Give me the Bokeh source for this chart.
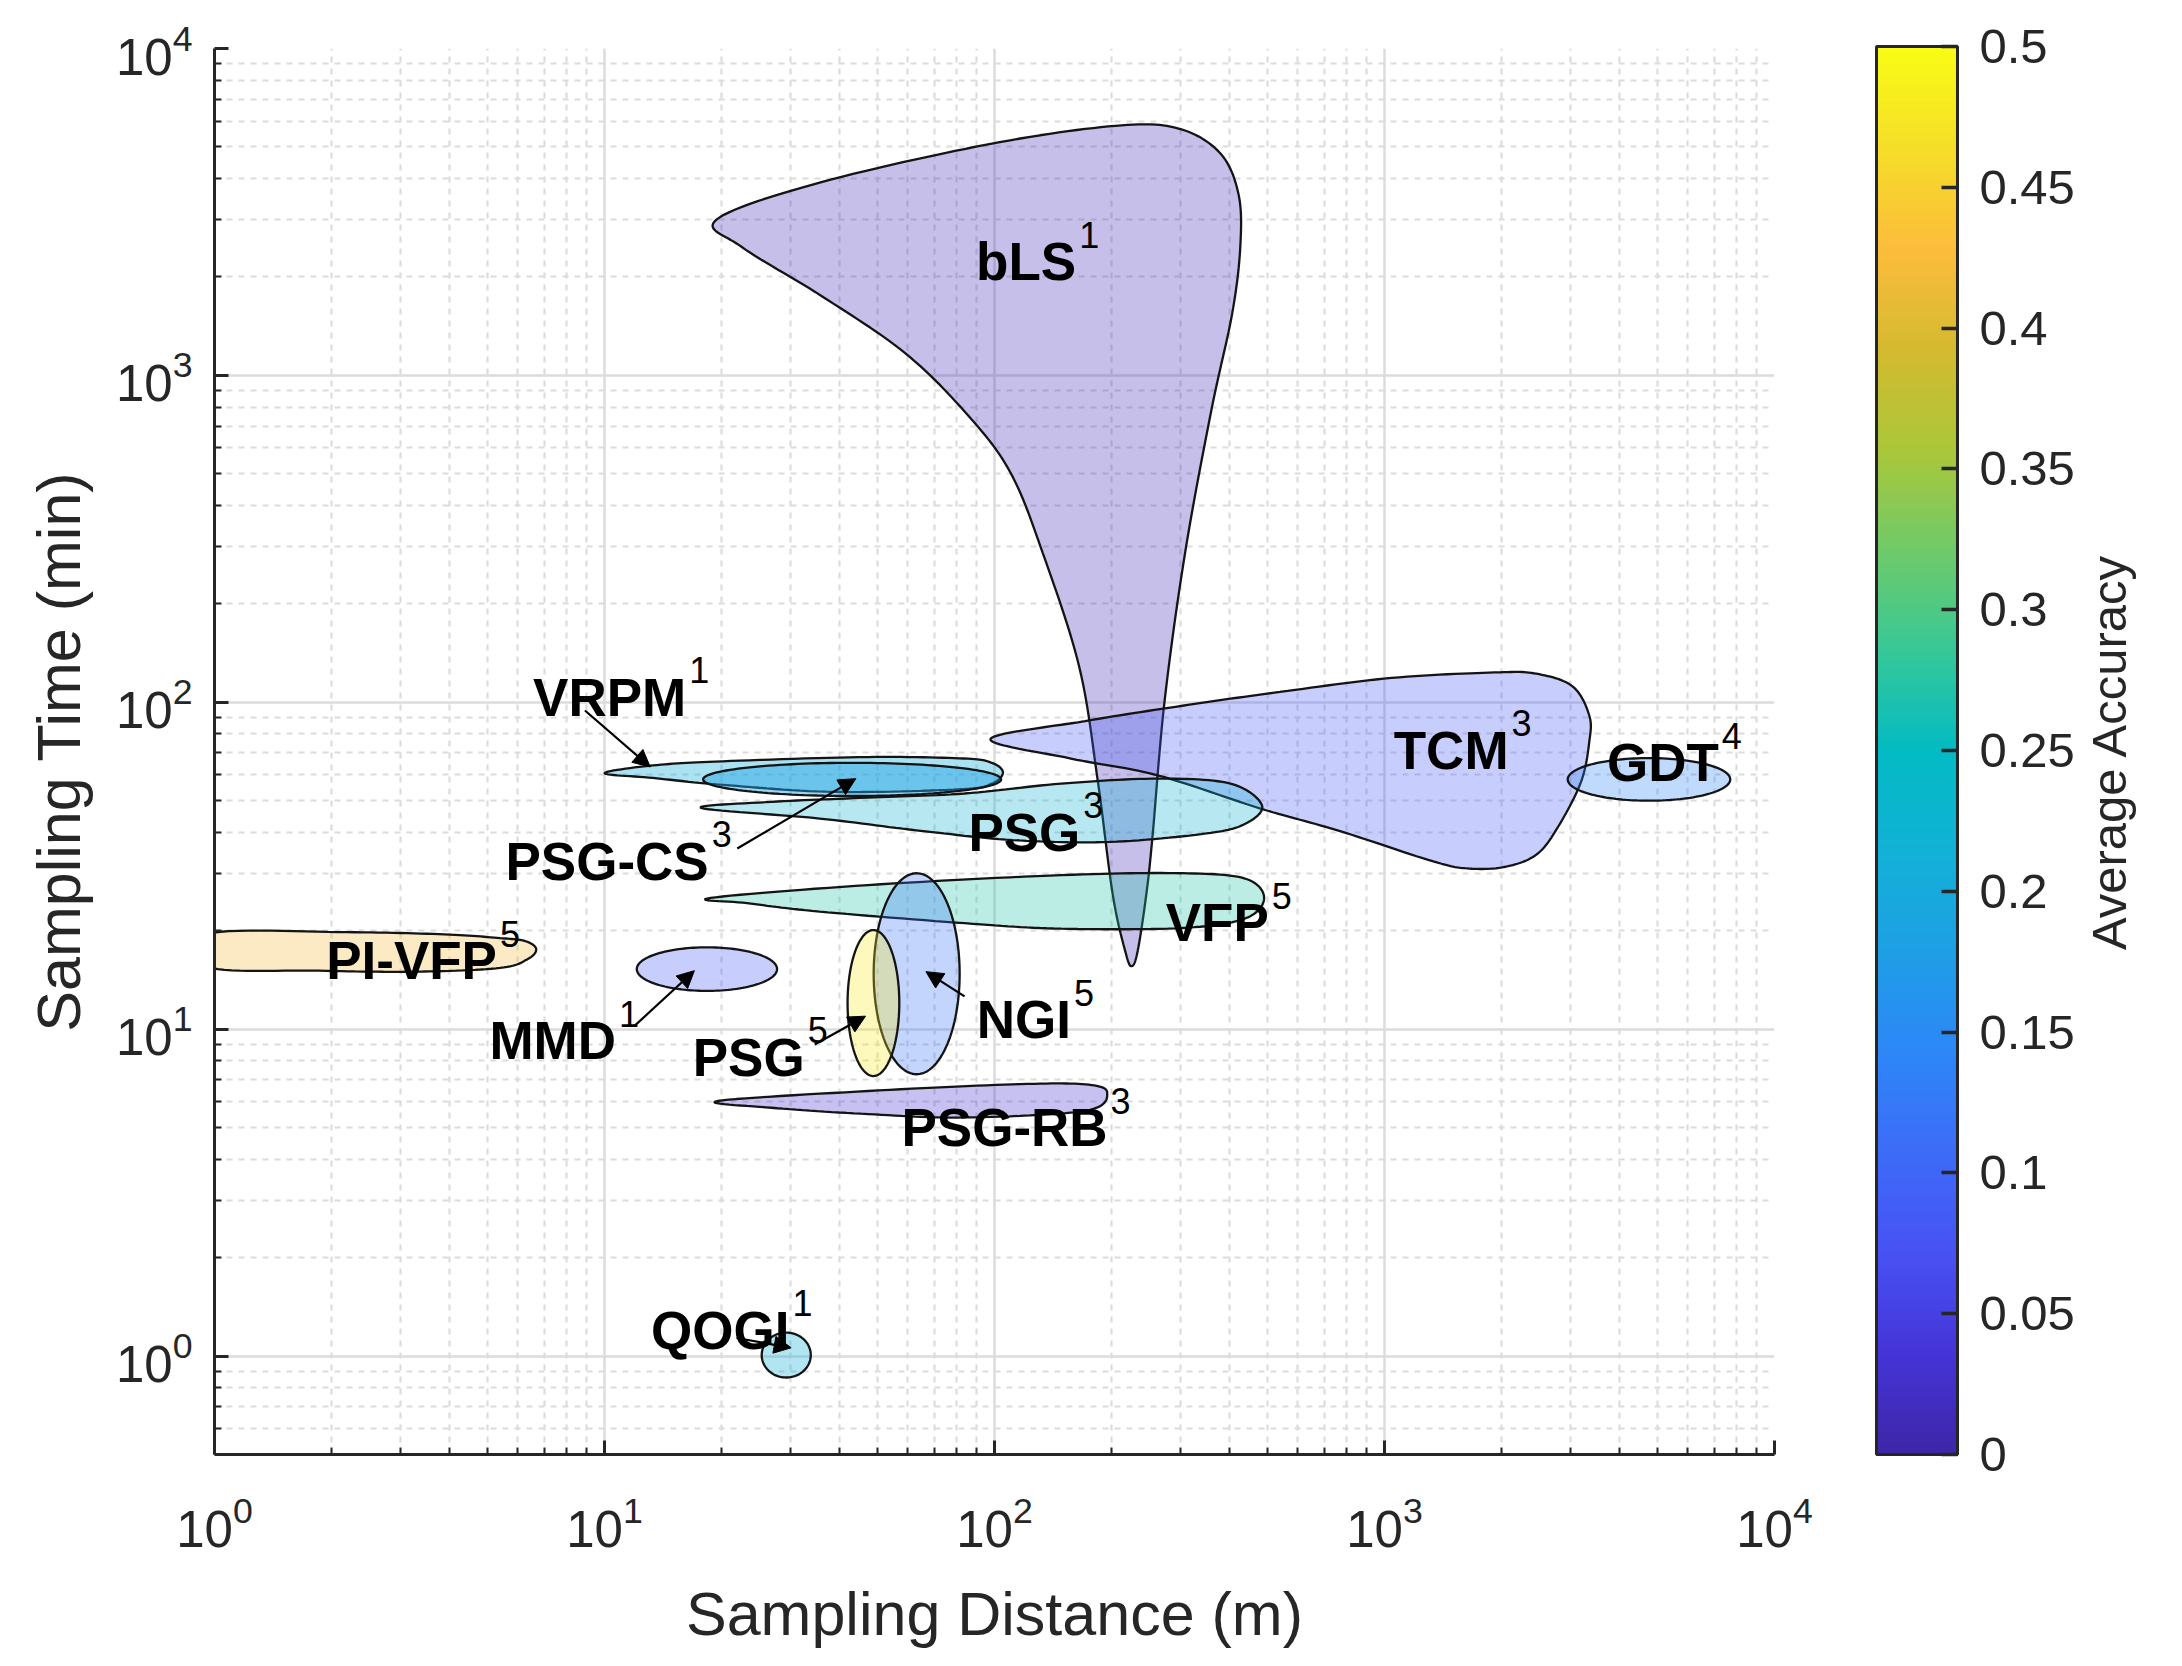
import numpy as np
from bokeh.plotting import figure
from bokeh.models import (Range1d, FixedTicker, ColorBar, LinearColorMapper, LogAxis,
                          Arrow, NormalHead, ColumnDataSource, CustomJSTickFormatter)
from bokeh.core.properties import value
from bokeh.embed import file_html
from bokeh.resources import INLINE

# ---------------- data ----------------
X_TICKS = [1, 10, 100, 1000, 10000]
Y_TICKS = [1, 10, 100, 1000, 10000]
CB_TICKS = [0, 0.05, 0.1, 0.15, 0.2, 0.25, 0.3, 0.35, 0.4, 0.45, 0.5]
CB_TITLE = "Average Accuracy"

# tapered regions: outline in sampling distance (m) / sampling time (min)
BLS_DIST = [19.4, 36, 97, 204, 295, 378, 422, 427, 407, 360, 308, 273, 254, 245, 233, 225, 217, 201, 184, 165, 133, 110, 85.5, 59, 36, 22.5]
BLS_TIME = [3000, 3900, 5100, 5800, 5700, 4800, 3600, 2500, 1550, 785, 286, 101, 38.5, 25.8, 17.4, 15.6, 17.1, 25.8, 57.5, 128, 286, 503, 755, 1170, 1750, 2470]
TCM_DIST = [97.6, 170.7, 303.4, 539.7, 1042, 1915, 2451, 3034, 3350, 3350, 3189, 2773, 2451, 2045, 1652, 1334, 762, 481, 262, 157]
TCM_TIME = [77.2, 87.6, 97.6, 107.6, 118.7, 123.4, 122.3, 111.9, 91.1, 75.7, 57.0, 41.2, 34.2, 31.4, 31.0, 32.6, 40.5, 47.3, 59.8, 67.3]
VRPM_DIST = [10.0, 13.3, 20.1, 47.3, 83.4, 98.4, 105.1, 98.4, 81.4, 38.8, 20.1, 13.3]
VRPM_TIME = [60.7, 64.1, 66.0, 68.0, 67.3, 65.3, 61.0, 56.4, 54.2, 53.2, 55.9, 58.7]
PSG3_DIST = [17.7, 26.8, 47.3, 83.8, 148.3, 262.4, 402.7, 485, 439.4, 349.1, 197.2, 111.3, 63.0, 35.6]
PSG3_TIME = [47.5, 49.6, 51.1, 52.6, 56.4, 58.4, 56.4, 48.4, 42.5, 39.7, 37.4, 37.9, 40.6, 44.1]
VFP_DIST = [18.7, 47.4, 148.3, 302.8, 438.6, 491.3, 438.6, 302.8, 148.3, 83.8, 35.6, 23.2]
VFP_TIME = [25.2, 27.6, 29.6, 30.0, 28.9, 25.2, 21.8, 20.4, 20.3, 21.1, 22.9, 24.3]
PIVFP_DIST = [0.96, 2.18, 3.88, 5.40, 6.26, 6.68, 6.36, 5.40, 3.30, 1.85, 0.96]
PIVFP_TIME = [19.6, 19.8, 19.5, 19.0, 18.6, 17.6, 16.4, 15.4, 15.0, 15.1, 15.5]
PSGRB_DIST = [19.5, 47.4, 111.4, 171.1, 194.5, 171.1, 83.8, 47.4, 26.8]
PSGRB_TIME = [6.03, 6.47, 6.78, 6.78, 6.40, 5.63, 5.37, 5.50, 5.75]

# elliptic regions: [min distance, max distance, min time, max time]
GDT_BOX = [2950, 7700, 50.0, 67.5]
PSGCS_BOX = [17.9, 104, 51.7, 65.3]
MMD_BOX = [12.1, 27.7, 13.1, 17.8]
NGI_BOX = [49, 81.4, 7.28, 30]
PSG5_BOX = [42, 57, 7.19, 20.1]
QOGI_BOX = [25.3, 33.8, 0.86, 1.18]

REGION_NAMES = ["bLS", "TCM", "GDT", "VRPM", "PSG-CS", "PSG (3)", "VFP", "PI-VFP", "MMD", "NGI", "PSG (5)", "PSG-RB", "QOGI"]
REGION_ACCURACY = [0.01, 0.08, 0.14, 0.21, 0.18, 0.22, 0.27, 0.42, 0.08, 0.12, 0.48, 0.03, 0.21]

LABEL_TEXT = ["bLS", "VRPM", "PSG-CS", "PSG", "TCM", "GDT", "VFP", "PI-VFP", "MMD", "PSG", "NGI", "PSG-RB", "QOGI"]
LABEL_SUP = ["1", "1", "3", "3", "3", "4", "5", "5", "1", "5", "5", "3", "1"]
LABEL_DIST = [162, 16.2, 18.5, 166, 2080, 7200, 505, 5.30, 10.7, 32.6, 157, 195, 29.8]
LABEL_TIME = [2226, 103.5, 32.6, 40.0, 71.3, 65.3, 21.2, 16.2, 9.22, 8.20, 10.7, 5.00, 1.2]

ARROW_FROM_DIST = [8.91, 21.9, 11.9, 34.6, 83.8, 21.8]
ARROW_FROM_TIME = [94.4, 35.7, 10.2, 8.98, 12.6, 1.136]
ARROW_TO_DIST = [13.1, 44.1, 17.0, 46.7, 66.7, 30.1]
ARROW_TO_TIME = [63.4, 58.4, 15.1, 10.96, 15.0, 1.06]

PARULA_STOPS = ["#3E26A8", "#4535D8", "#4852F4", "#3D6CF8", "#2D87F7", "#1E9FE5", "#12B1D6",
                "#03BBC3", "#37C897", "#6FCA6A", "#ABC739", "#D4BA30", "#FCBC3C", "#F5DE29", "#F9FB15"]

# ---------------- helpers ----------------
def hex2rgb(h):
    return np.array([int(h[i:i + 2], 16) for i in (1, 3, 5)], dtype=float)

stops = np.array([hex2rgb(c) for c in PARULA_STOPS])
st = np.linspace(0, 1, len(stops))
tt = np.linspace(0, 1, 256)
PALETTE = ["#%02x%02x%02x" % tuple(int(round(np.interp(t, st, stops[:, k]))) for k in range(3)) for t in tt]

def acc_color(a):
    return PALETTE[int(round(a / 0.5 * 255))]

def smooth_closed(xs, ys, n=14):
    P = np.column_stack([np.log10(xs), np.log10(ys)])
    m = len(P)
    out = []
    for i in range(m):
        p0, p1, p2, p3 = P[(i - 1) % m], P[i], P[(i + 1) % m], P[(i + 2) % m]
        for t in np.linspace(0, 1, n, endpoint=False):
            t2, t3 = t * t, t * t * t
            out.append(0.5 * (2 * p1 + (-p0 + p2) * t + (2 * p0 - 5 * p1 + 4 * p2 - p3) * t2
                              + (-p0 + 3 * p1 - 3 * p2 + p3) * t3))
    out = np.array(out)
    return list(10 ** out[:, 0]), list(10 ** out[:, 1])

def ellipse(box, n=140):
    x0, x1, y0, y1 = np.log10(box)
    t = np.linspace(0, 2 * np.pi, n)
    cx, cy, rx, ry = (x0 + x1) / 2, (y0 + y1) / 2, (x1 - x0) / 2, (y1 - y0) / 2
    return list(10 ** (cx + rx * np.cos(t))), list(10 ** (cy + ry * np.sin(t)))

shapes = [
    smooth_closed(BLS_DIST, BLS_TIME),
    smooth_closed(TCM_DIST, TCM_TIME),
    ellipse(GDT_BOX),
    smooth_closed(VRPM_DIST, VRPM_TIME),
    ellipse(PSGCS_BOX),
    smooth_closed(PSG3_DIST, PSG3_TIME),
    smooth_closed(VFP_DIST, VFP_TIME),
    smooth_closed(PIVFP_DIST, PIVFP_TIME),
    ellipse(MMD_BOX),
    ellipse(NGI_BOX),
    ellipse(PSG5_BOX),
    smooth_closed(PSGRB_DIST, PSGRB_TIME),
    ellipse(QOGI_BOX),
]
alphas = [0.3, 0.3, 0.3, 0.36, 0.45, 0.3, 0.3, 0.3, 0.3, 0.3, 0.3, 0.3, 0.33]

FONT = "Liberation Sans"
TXT = "#262626"

# ---------------- figure ----------------
W, H = 2166, 1650
BL, BR, BT, BB = 214, 391, 48, 194
FW, FH = W - BL - BR, H - BT - BB
XR, YR = (1, 1e4), (0.5, 1e4)

p = figure(width=W, height=H, x_axis_type="log", y_axis_type="log",
           x_range=Range1d(*XR), y_range=Range1d(*YR),
           output_backend="svg", toolbar_location=None,
           min_border_left=BL, min_border_right=BR, min_border_top=BT, min_border_bottom=BB)
p.outline_line_color = None
p.background_fill_color = "white"

x_minor = [k * 10 ** d for d in range(4) for k in range(2, 10)]
y_minor = [0.6, 0.7, 0.8, 0.9] + [k * 10 ** d for d in range(4) for k in range(2, 10)]
xt = FixedTicker(ticks=X_TICKS, minor_ticks=x_minor)
yt = FixedTicker(ticks=Y_TICKS, minor_ticks=y_minor)
p.xaxis.ticker = xt
p.yaxis.ticker = yt
p.xgrid.ticker = xt
p.ygrid.ticker = yt

for g in (p.xgrid, p.ygrid):
    g.grid_line_color = "#DCDCDC"
    g.grid_line_width = 2.5
    g.minor_grid_line_color = "#DCDCDC"
    g.minor_grid_line_width = 2.2
    g.minor_grid_line_dash = "6 6"

for ax in (p.xaxis, p.yaxis):
    ax.axis_line_color = TXT
    ax.axis_line_width = 3
    ax.major_tick_line_color = TXT
    ax.major_tick_line_width = 3
    ax.minor_tick_line_color = TXT
    ax.minor_tick_line_width = 2
    ax.major_tick_in = 14
    ax.major_tick_out = 0
    ax.minor_tick_in = 7
    ax.minor_tick_out = 0
    ax.major_label_text_font = FONT
    ax.major_label_text_font_size = "51px"
    ax.major_label_text_color = TXT
    ax.axis_label_text_font = FONT
    ax.axis_label_text_font_size = "61px"
    ax.axis_label_text_font_style = "normal"
    ax.axis_label_text_color = TXT

p.xaxis.axis_label = "Sampling Distance (m)"
p.yaxis.axis_label = "Sampling Time (min)"
p.xaxis.major_label_standoff = 40
p.yaxis.major_label_standoff = 22
p.xaxis.axis_label_standoff = 30
p.yaxis.axis_label_standoff = 20

# regions
p.patches([s[0] for s in shapes], [s[1] for s in shapes],
          fill_color=[acc_color(a) for a in REGION_ACCURACY], fill_alpha=alphas,
          line_color="#141414", line_width=2.3)

# arrows
asrc = ColumnDataSource(dict(x0=ARROW_FROM_DIST, y0=ARROW_FROM_TIME, x1=ARROW_TO_DIST, y1=ARROW_TO_TIME))
p.add_layout(Arrow(source=asrc, x_start="x0", y_start="y0", x_end="x1", y_end="y1",
                   line_color="black", line_width=2.2,
                   end=NormalHead(size=17, fill_color="black", line_color="black", line_width=1)))

# labels
lsrc = ColumnDataSource(dict(x=LABEL_DIST, y=LABEL_TIME, t=LABEL_TEXT, s=LABEL_SUP))
p.text(x="x", y="y", text="t", source=lsrc, text_font=value(FONT), text_font_style="bold",
       text_font_size="53px", text_color="black", text_align="right", text_baseline="alphabetic")
p.text(x="x", y="y", text="s", source=lsrc, text_font=value(FONT), text_font_style="normal",
       text_font_size="36px", text_color="black", text_align="left", text_baseline="alphabetic",
       x_offset=3, y_offset=-27)

# colour bar
mapper = LinearColorMapper(palette=PALETTE, low=0, high=0.5)
cb = ColorBar(color_mapper=mapper, ticker=FixedTicker(ticks=CB_TICKS),
              formatter=CustomJSTickFormatter(code="return String(Math.round(tick*100)/100)"),
              orientation="vertical", width=81, height=FH, location=(1662, 0),
              padding=0, margin=0, border_line_color=None, background_fill_color=None,
              bar_line_color=TXT, bar_line_width=3,
              major_tick_line_color=TXT, major_tick_line_width=3.5, major_tick_in=16, major_tick_out=0,
              minor_tick_line_color=None,
              major_label_text_font=FONT, major_label_text_font_size="49px",
              major_label_text_color=TXT, label_standoff=22)
p.add_layout(cb, "center")

# colour-bar title: single rotated tick label of an otherwise invisible right axis.
# The text starts at the tick and runs upwards, so the tick sits half a text length
# below the vertical middle of the frame.
title_px = 49
half_len_px = 0.5 * 8.114 * title_px
decade_px = FH / (np.log10(YR[1]) - np.log10(YR[0]))
t0 = 10 ** ((np.log10(YR[0]) + np.log10(YR[1])) / 2 - half_len_px / decade_px)
ra = LogAxis(ticker=FixedTicker(ticks=[float(t0)]),
             formatter=CustomJSTickFormatter(code="return '%s'" % CB_TITLE),
             axis_line_color=None, major_tick_line_color=None, minor_tick_line_color=None,
             major_tick_out=0, major_tick_in=0, minor_tick_out=0, minor_tick_in=0,
             major_label_orientation=float(np.pi / 2), major_label_standoff=335,
             major_label_text_font=FONT, major_label_text_font_size="%dpx" % title_px,
             major_label_text_color=TXT)
p.add_layout(ra, "right")

open("out.html", "w").write(file_html(p, INLINE))
